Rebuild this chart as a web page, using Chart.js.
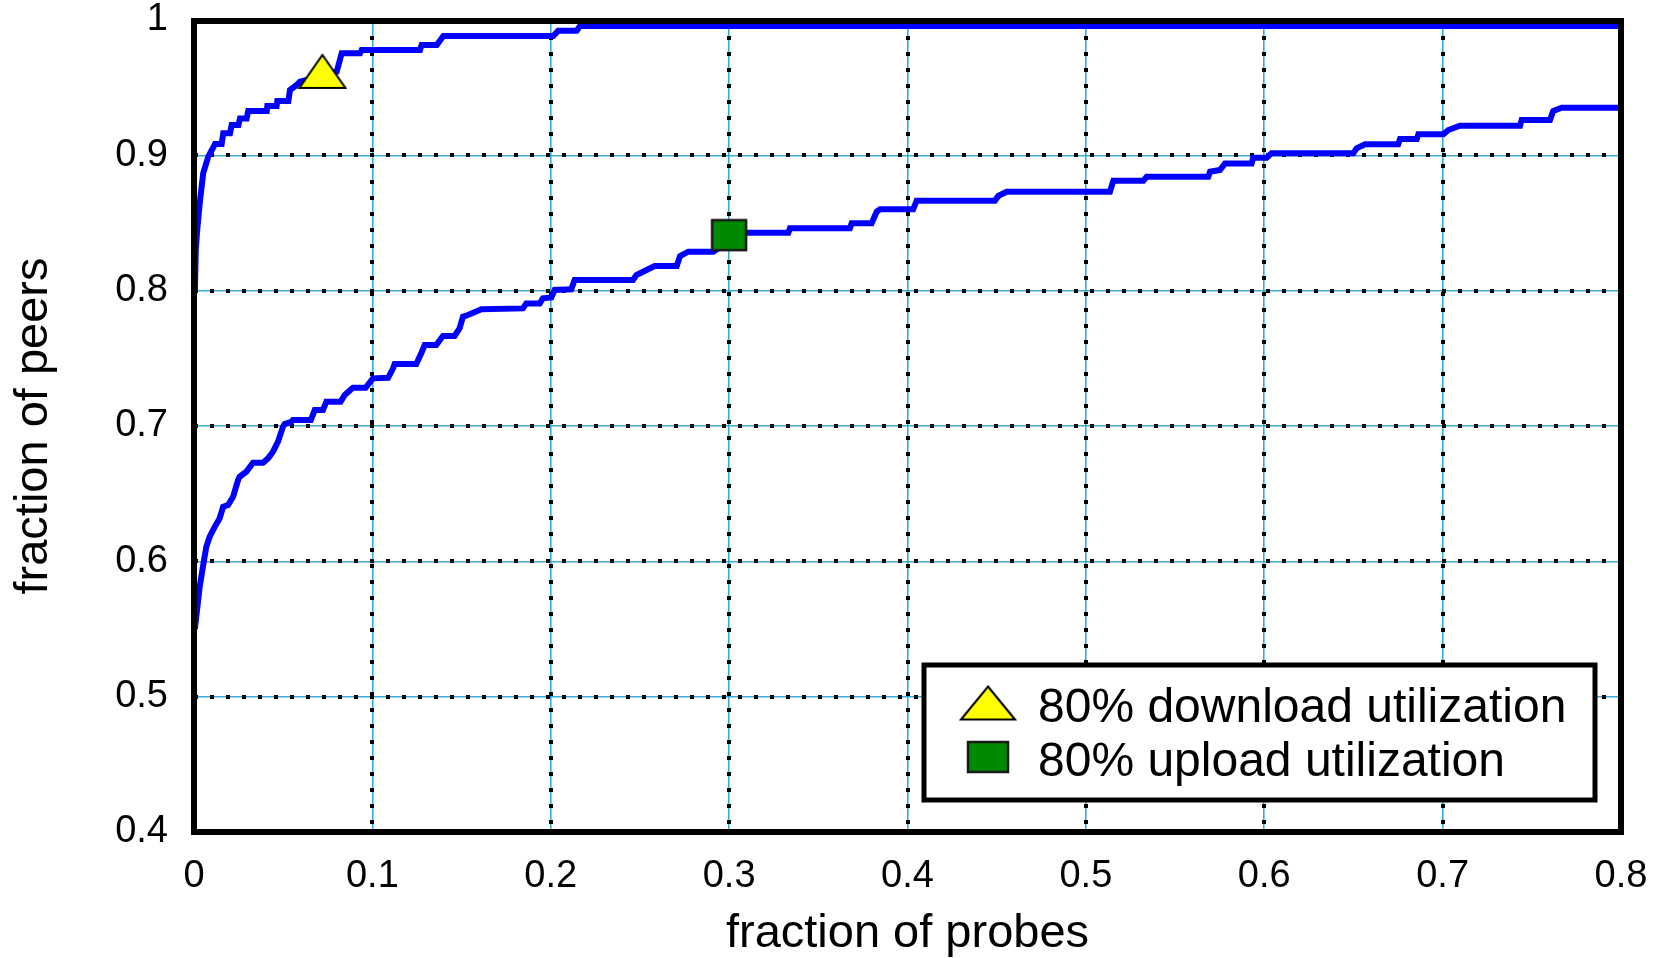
<!DOCTYPE html>
<html>
<head>
<meta charset="utf-8">
<title>fraction of peers vs fraction of probes</title>
<script src="https://cdn.jsdelivr.net/npm/chart.js@4.4.1/dist/chart.umd.min.js"></script>
<style>
  html, body { margin: 0; padding: 0; background: #ffffff; }
  #wrap { width: 1671px; height: 958px; position: relative; }
</style>
</head>
<body>
<div id="wrap"><canvas id="chart" width="1671" height="958"></canvas></div>
<script>
// Axis tick labels
const xTickLabels = ['0', '0.1', '0.2', '0.3', '0.4', '0.5', '0.6', '0.7', '0.8'];
const yTickLabels = ['0.4', '0.5', '0.6', '0.7', '0.8', '0.9', '1'];

// Download-utilization curve (fraction of probes, fraction of peers)
const downloadX = [0.0005, 0.0010, 0.0018, 0.0034, 0.0052, 0.0080, 0.0118, 0.0155, 0.0164, 0.0202,
                   0.0211, 0.0249, 0.0258, 0.0295, 0.0304, 0.0408, 0.0411, 0.0463, 0.0467, 0.0529,
                   0.0538, 0.0576, 0.0594, 0.0700, 0.0800, 0.0828, 0.0931, 0.0940, 0.1267, 0.1276,
                   0.1361, 0.1398, 0.2014, 0.2042, 0.2145, 0.2164, 0.8000];
const downloadY = [0.800, 0.830, 0.845, 0.867, 0.887, 0.899, 0.9084, 0.9084, 0.9163, 0.9163,
                   0.9224, 0.9224, 0.9273, 0.9273, 0.9327, 0.9327, 0.9364, 0.9364, 0.9401, 0.9401,
                   0.9483, 0.9520, 0.9544, 0.9580, 0.9618, 0.9754, 0.9754, 0.9778, 0.9778, 0.9815,
                   0.9815, 0.9882, 0.9882, 0.9921, 0.9921, 0.9956, 0.9956];

// Upload-utilization curve
const uploadX = [0.0005, 0.0032, 0.0050, 0.0069, 0.0088, 0.0116, 0.0144, 0.0163, 0.0191, 0.0219,
                 0.0247, 0.0256, 0.0293, 0.0331, 0.0387, 0.0415, 0.0443, 0.0471, 0.0499, 0.0508,
                 0.0545, 0.0555, 0.0655, 0.0677, 0.0723, 0.0742, 0.0822, 0.0845, 0.0891, 0.0962,
                 0.1003, 0.1088, 0.1116, 0.1125, 0.1246, 0.1274, 0.1293, 0.1358, 0.1386, 0.1396,
                 0.1461, 0.1489, 0.1508, 0.1536, 0.1611, 0.1844, 0.1863, 0.1938, 0.1956, 0.2003,
                 0.2022, 0.2115, 0.2134, 0.2461, 0.2480, 0.2517, 0.2583, 0.2706, 0.2725, 0.2771,
                 0.2911, 0.2990, 0.3060, 0.3332, 0.3341, 0.3677, 0.3687, 0.3799, 0.3827, 0.3846,
                 0.4032, 0.4051, 0.4490, 0.4509, 0.4556, 0.5135, 0.5154, 0.5322, 0.5341, 0.5686,
                 0.5696, 0.5752, 0.5780, 0.5929, 0.5938, 0.6013, 0.6041, 0.6499, 0.6518, 0.6565,
                 0.6751, 0.6761, 0.6855, 0.6864, 0.7004, 0.7032, 0.7097, 0.7434, 0.7443, 0.7602,
                 0.7620, 0.7667, 0.8000];
const uploadY = [0.5500, 0.5812, 0.5960, 0.6108, 0.6182, 0.6255, 0.6318, 0.6403, 0.6416, 0.6477,
                 0.6600, 0.6625, 0.6662, 0.6729, 0.6729, 0.6761, 0.6810, 0.6884, 0.6995, 0.7014,
                 0.7030, 0.7044, 0.7044, 0.7118, 0.7118, 0.7180, 0.7180, 0.7229, 0.7282, 0.7282,
                 0.7352, 0.7356, 0.7426, 0.7458, 0.7458, 0.7537, 0.7598, 0.7598, 0.7648, 0.7665,
                 0.7665, 0.7722, 0.7808, 0.7820, 0.7862, 0.7869, 0.7906, 0.7906, 0.7943, 0.7950,
                 0.8005, 0.8010, 0.8079, 0.8079, 0.8116, 0.8140, 0.8182, 0.8182, 0.8256, 0.8288,
                 0.8288, 0.8360, 0.8428, 0.8428, 0.8461, 0.8461, 0.8498, 0.8498, 0.8583, 0.8601,
                 0.8601, 0.8665, 0.8665, 0.8700, 0.8731, 0.8731, 0.8813, 0.8813, 0.8842, 0.8842,
                 0.8879, 0.8891, 0.8940, 0.8940, 0.8982, 0.8982, 0.9015, 0.9015, 0.9052, 0.9081,
                 0.9081, 0.9120, 0.9120, 0.9155, 0.9155, 0.9187, 0.9219, 0.9219, 0.9261, 0.9261,
                 0.9327, 0.9352, 0.9352];

// 80% utilization points
const markerLabels = ['80% download utilization', '80% upload utilization'];
const downloadMarkX = [0.072];
const downloadMarkY = [0.962];
const uploadMarkX = [0.300];
const uploadMarkY = [0.841];

const zip = (xs, ys) => xs.map((v, i) => ({ x: v, y: ys[i] }));

// Marker glyphs drawn once onto small canvases and used as point styles
function triangleGlyph(w, h) {
  const c = document.createElement('canvas');
  c.width = w + 4; c.height = h + 4;
  const g = c.getContext('2d');
  g.beginPath();
  g.moveTo(c.width / 2, 2);
  g.lineTo(w + 2, h + 2);
  g.lineTo(2, h + 2);
  g.closePath();
  g.fillStyle = '#ffff00';
  g.fill();
  g.lineWidth = 2;
  g.strokeStyle = '#000000';
  g.stroke();
  return c;
}
function squareGlyph(w, h) {
  const c = document.createElement('canvas');
  c.width = w + 4; c.height = h + 4;
  const g = c.getContext('2d');
  g.fillStyle = '#008a00';
  g.fillRect(2, 2, w, h);
  g.lineWidth = 2.5;
  g.strokeStyle = '#1a1a1a';
  g.strokeRect(2, 2, w, h);
  return c;
}
const triPlot = triangleGlyph(46, 33);
const sqPlot = squareGlyph(34, 30);
const triKey = triangleGlyph(54, 33);
const sqKey = squareGlyph(40, 30);

const FONT = '"Liberation Sans", Arial, Helvetica, sans-serif';
Chart.defaults.font.family = FONT;
Chart.defaults.color = '#000000';

// Dotted black grid laid over the thin cyan grid
const dottedGrid = {
  id: 'dottedGrid',
  beforeDatasetsDraw(chart) {
    const { ctx, chartArea: a, scales: { x, y } } = chart;
    ctx.save();
    ctx.strokeStyle = '#000000';
    ctx.lineWidth = 4;
    ctx.setLineDash([4, 12]);
    x.ticks.forEach(t => {
      const px = Math.round(x.getPixelForValue(t.value));
      ctx.beginPath();
      ctx.moveTo(px, a.top);
      ctx.lineTo(px, a.bottom);
      ctx.stroke();
    });
    y.ticks.forEach(t => {
      const py = Math.round(y.getPixelForValue(t.value));
      ctx.beginPath();
      ctx.moveTo(a.left, py);
      ctx.lineTo(a.right, py);
      ctx.stroke();
    });
    ctx.restore();
  }
};

// Heavy frame around the plotting area
const plotFrame = {
  id: 'plotFrame',
  afterDatasetsDraw(chart) {
    const { ctx, chartArea: a } = chart;
    ctx.save();
    ctx.strokeStyle = '#000000';
    ctx.lineWidth = 6;
    ctx.lineJoin = 'miter';
    ctx.strokeRect(a.left, a.top + 1, a.right - a.left, a.bottom - a.top - 1);
    ctx.restore();
  }
};

// Boxed key in the lower right of the plot
const boxedKey = {
  id: 'boxedKey',
  afterDraw(chart) {
    const { ctx, chartArea: a } = chart;
    const right = a.right - 26, bottom = a.bottom - 32;
    const w = 671, h = 135;
    const left = right - w, top = bottom - h;
    ctx.save();
    ctx.fillStyle = '#ffffff';
    ctx.fillRect(left, top, w, h);
    ctx.strokeStyle = '#000000';
    ctx.lineWidth = 5;
    ctx.strokeRect(left, top, w, h);
    const entries = chart.data.datasets.filter(d => d.keyGlyph);
    ctx.font = '48px ' + FONT;
    ctx.fillStyle = '#000000';
    ctx.textBaseline = 'alphabetic';
    ctx.textAlign = 'left';
    entries.forEach((d, i) => {
      const cy = top + 38 + i * 54;
      const g = d.keyGlyph;
      ctx.drawImage(g, left + 64 - g.width / 2, cy - g.height / 2);
      ctx.fillText(d.label, left + 114, cy + 19);
    });
    ctx.restore();
  }
};

new Chart(document.getElementById('chart'), {
  type: 'line',
  data: {
    datasets: [
      {
        label: 'download',
        data: zip(downloadX, downloadY),
        borderColor: '#0000ff',
        borderWidth: 6,
        pointRadius: 0,
        fill: false,
        tension: 0,
        order: 1
      },
      {
        label: 'upload',
        data: zip(uploadX, uploadY),
        borderColor: '#0000ff',
        borderWidth: 6,
        pointRadius: 0,
        fill: false,
        tension: 0,
        order: 1
      },
      {
        label: markerLabels[0],
        data: zip(downloadMarkX, downloadMarkY),
        showLine: false,
        pointStyle: triPlot,
        pointRadius: 10,
        keyGlyph: triKey,
        order: 0
      },
      {
        label: markerLabels[1],
        data: zip(uploadMarkX, uploadMarkY),
        showLine: false,
        pointStyle: sqPlot,
        pointRadius: 10,
        keyGlyph: sqKey,
        order: 0
      }
    ]
  },
  options: {
    responsive: false,
    animation: false,
    events: [],
    layout: { padding: { top: 20, right: 50, left: 0, bottom: 0 } },
    plugins: { legend: { display: false }, tooltip: { enabled: false } },
    scales: {
      x: {
        type: 'linear',
        min: 0,
        max: 0.8,
        ticks: {
          stepSize: 0.1,
          padding: 22,
          font: { size: 38 },
          color: '#000000',
          maxRotation: 0,
          callback: (v, i) => xTickLabels[i]
        },
        grid: { color: 'rgba(40,170,215,0.95)', lineWidth: 1.6, drawTicks: false },
        border: { display: false },
        title: {
          display: true,
          text: 'fraction of probes',
          font: { size: 47, lineHeight: 1 },
          color: '#000000',
          padding: { top: 0, bottom: 0 }
        },
        afterFit(scale) {
          scale.height = 126;
          scale.paddingLeft = 0;
          scale.paddingRight = 0;
        }
      },
      y: {
        type: 'linear',
        min: 0.4,
        max: 1,
        ticks: {
          stepSize: 0.1,
          padding: 26,
          font: { size: 38 },
          color: '#000000',
          callback: (v, i) => yTickLabels[i]
        },
        grid: { color: 'rgba(40,170,215,0.95)', lineWidth: 1.6, drawTicks: false },
        border: { display: false },
        title: {
          display: true,
          text: 'fraction of peers',
          font: { size: 47, lineHeight: 1 },
          color: '#000000',
          padding: { top: 11, bottom: 0 }
        },
        afterFit(scale) {
          scale.width = 194;
          scale.paddingTop = 0;
          scale.paddingBottom = 0;
        }
      }
    }
  },
  plugins: [dottedGrid, plotFrame, boxedKey]
});
</script>
</body>
</html>
